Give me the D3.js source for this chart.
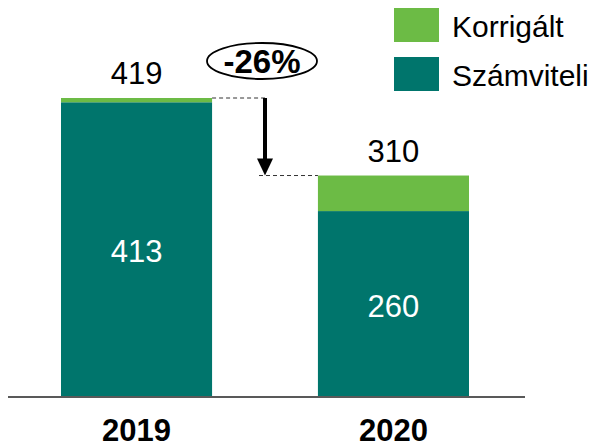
<!DOCTYPE html>
<html>
<head>
<meta charset="utf-8">
<script src="https://cdn.jsdelivr.net/npm/d3@7"></script>
<style>
body { margin: 0; background: #fff; }
svg { font-family: "Liberation Sans", Arial, sans-serif; }
</style>
</head>
<body>
<svg id="chart" width="597" height="448"></svg>
<script>
// chart data
var years = ["2019", "2020"];
var szamviteli = [413, 260];
var korrigalt = [6, 50];
var totals = [419, 310];
var seriesNames = ["Korrigált", "Számviteli"];
var changeLabel = "-26%";

var colors = {dark: "#00756c", light: "#6cbb45"};

var svg = d3.select("#chart");

var x = d3.scaleBand()
	.domain(years)
	.range([61, 469])
	.paddingInner(0.412)
	.paddingOuter(0);

var y = d3.scaleLinear()
	.domain([0, 419])
	.range([396, 98]);

// stacked bars
var g = svg.append("g");

g.selectAll(".dark")
	.data(years)
  .enter().append("rect")
	.attr("x", function(d) { return x(d); })
	.attr("y", function(d, i) { return y(szamviteli[i]); })
	.attr("width", x.bandwidth())
	.attr("height", function(d, i) { return y(0) - y(szamviteli[i]); })
	.attr("fill", colors.dark);

g.selectAll(".light")
	.data(years)
  .enter().append("rect")
	.attr("x", function(d) { return x(d); })
	.attr("y", function(d, i) { return y(szamviteli[i] + korrigalt[i]); })
	.attr("width", x.bandwidth())
	.attr("height", function(d, i) { return y(szamviteli[i]) - y(szamviteli[i] + korrigalt[i]); })
	.attr("fill", colors.light);

// baseline
svg.append("line")
	.attr("x1", 8).attr("x2", 525)
	.attr("y1", y(0) + 1).attr("y2", y(0) + 1)
	.attr("stroke", "#222")
	.attr("stroke-width", 1.5);

// year labels
svg.selectAll(".year")
	.data(years)
  .enter().append("text")
	.attr("x", function(d) { return x(d) + x.bandwidth() / 2; })
	.attr("y", 441)
	.attr("text-anchor", "middle")
	.attr("font-size", 31)
	.attr("font-weight", "bold")
	.text(function(d) { return d; });

// inner values
svg.selectAll(".inner")
	.data(years)
  .enter().append("text")
	.attr("x", function(d) { return x(d) + x.bandwidth() / 2; })
	.attr("y", function(d, i) { return (y(0) + y(szamviteli[i])) / 2 + 13; })
	.attr("text-anchor", "middle")
	.attr("font-size", 31)
	.attr("fill", "#fff")
	.text(function(d, i) { return szamviteli[i]; });

// totals
svg.selectAll(".total")
	.data(years)
  .enter().append("text")
	.attr("x", function(d) { return x(d) + x.bandwidth() / 2; })
	.attr("y", function(d, i) { return y(totals[i]) - 14; })
	.attr("text-anchor", "middle")
	.attr("font-size", 31)
	.text(function(d, i) { return totals[i]; });

// dashed connectors and arrow
var ax = 265;
svg.append("line")
	.attr("x1", x(years[0]) + x.bandwidth()).attr("x2", ax)
	.attr("y1", y(totals[0])).attr("y2", y(totals[0]))
	.attr("stroke", "#333").attr("stroke-dasharray", "4,3");
svg.append("line")
	.attr("x1", 259).attr("x2", x(years[1]))
	.attr("y1", y(totals[1])).attr("y2", y(totals[1]))
	.attr("stroke", "#333").attr("stroke-dasharray", "4,3");
svg.append("line")
	.attr("x1", ax).attr("x2", ax)
	.attr("y1", y(totals[0])).attr("y2", y(totals[1]) - 12)
	.attr("stroke", "#000").attr("stroke-width", 4);
svg.append("path")
	.attr("d", "M" + (ax - 8) + "," + (y(totals[1]) - 17) + "L" + (ax + 8) + "," + (y(totals[1]) - 17) + "L" + ax + "," + y(totals[1]) + "Z")
	.attr("fill", "#000");

// change bubble
svg.append("ellipse")
	.attr("cx", 262).attr("cy", 61)
	.attr("rx", 55).attr("ry", 18)
	.attr("fill", "#fff")
	.attr("stroke", "#000")
	.attr("stroke-width", 1.8);
svg.append("text")
	.attr("x", 262).attr("y", 73)
	.attr("text-anchor", "middle")
	.attr("font-size", 33)
	.attr("font-weight", "bold")
	.text(changeLabel);

// legend
var legendColors = [colors.light, colors.dark];
var legend = svg.selectAll(".legend")
	.data(seriesNames)
  .enter().append("g")
	.attr("transform", function(d, i) { return "translate(394," + (8 + i * 49) + ")"; });
legend.append("rect")
	.attr("width", 45).attr("height", 34)
	.attr("fill", function(d, i) { return legendColors[i]; });
legend.append("text")
	.attr("x", 58).attr("y", 29)
	.attr("font-size", 30)
	.text(function(d) { return d; });
</script>
</body>
</html>
